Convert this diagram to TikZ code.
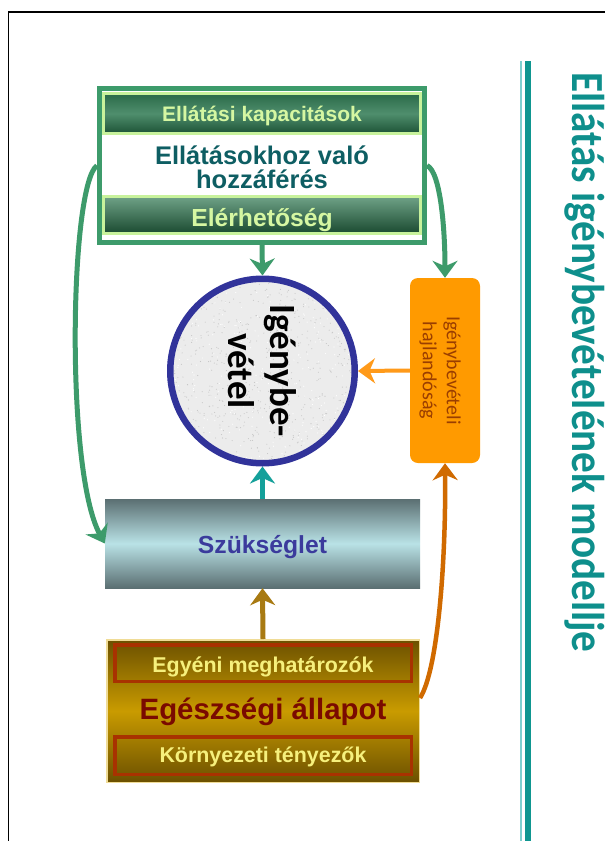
\documentclass[tikz,border=0pt]{standalone}
\usepackage{fontspec}
\setmainfont{Liberation Sans}
\newfontfamily\calfont{Carlito}
\newfontfamily\headfont[FakeStretch=0.895]{Carlito}
\usetikzlibrary{arrows.meta,calc}

\definecolor{frameGreen}{HTML}{3D9B6B}
\definecolor{barEdge}{HTML}{C8F29C}
\definecolor{barText}{HTML}{D6F7A2}
\definecolor{accText}{HTML}{0E5E63}
\definecolor{ringBlue}{HTML}{31339A}
\definecolor{propOrange}{HTML}{FF9A00}
\definecolor{propText}{HTML}{9A3E00}
\definecolor{needText}{HTML}{3B3B9C}
\definecolor{needDark}{HTML}{5B6F72}
\definecolor{needLight}{HTML}{B9E2E6}
\definecolor{goldDark}{HTML}{6B5000}
\definecolor{goldMid}{HTML}{C99B00}
\definecolor{goldEdge}{HTML}{F0DC96}
\definecolor{rust}{HTML}{A83200}
\definecolor{lemon}{HTML}{F6F07C}
\definecolor{healthText}{HTML}{7A0A00}
\definecolor{tealArrow}{HTML}{14A09A}
\definecolor{brownArrow}{HTML}{A87A12}
\definecolor{orangeArrow}{HTML}{FF9A1A}
\definecolor{burntArrow}{HTML}{D06A00}
\definecolor{titleTeal}{HTML}{0E8F8C}
\definecolor{ruleLight}{HTML}{7FCFCF}
\definecolor{ruleTeal}{HTML}{0F9690}
\definecolor{barTop}{HTML}{2A6A48}
\definecolor{barMid}{HTML}{4F8E6D}
\definecolor{barLow}{HTML}{1D5236}
\definecolor{barLight}{HTML}{6FA287}
\definecolor{barDeep}{HTML}{1A4A30}
\definecolor{stone}{HTML}{ECECEC}

\tikzset{
  greenbar/.style={draw=barEdge, line width=3pt, minimum width=317pt, inner sep=0pt},
  bartext/.style={anchor=base, text=barText, font=\bfseries\fontsize{21}{24}\selectfont},
  accline/.style={anchor=base, text=accText, font=\bfseries\fontsize{25.5}{28}\selectfont},
  goldframe/.style={draw=rust, line width=3.5pt, minimum width=296.5pt, inner sep=0pt},
  lemontext/.style={anchor=base, text=lemon, font=\bfseries\fontsize{21.4}{24}\selectfont},
  conn/.style={line width=5pt, -{Stealth[length=17pt,width=25pt,inset=5.5pt]}},
}

\begin{document}
\begin{tikzpicture}[x=1pt,y=-1pt]
\useasboundingbox (0,0) rectangle (605,841);
\fill[white] (0,0) rectangle (605,841);

% page frame and side rules
\draw[black, line width=1.5pt] (8.5,850) -- (8.5,12) -- (615,12);
\fill[ruleLight] (519.5,61) rectangle (521.5,850);
\fill[ruleTeal] (525,61) rectangle (531,850);

% title
\node[rotate=-90, anchor=base west, inner sep=0pt, text=titleTeal,
      font=\headfont\bfseries\fontsize{46}{50}\selectfont] (title) at (572,72)
      {Ellátás igénybevételének modellje};

% access block
\node[draw=frameGreen, line width=5pt, fill=white, minimum width=325pt,
      minimum height=154pt, inner sep=0pt] (access) at (262,165.5) {};
\node[greenbar, minimum height=40pt, top color=barTop, bottom color=barLow,
      middle color=barMid] (capbar) at (262,113.5) {};
\node[bartext] (captext) at (262,121.5) {Ellátási kapacitások};
\node[accline] (acc1) at (262,164.5) {Ellátásokhoz való};
\node[accline] (acc2) at (262,188) {hozzáférés};
\node[greenbar, minimum height=37pt, top color=barLight, bottom color=barDeep]
      (reachbar) at (262,215) {};
\node[bartext, font=\bfseries\fontsize{24.7}{28}\selectfont] (reachtext) at (262,226.5) {Elérhetőség};

% utilisation circle with stone texture
\coordinate (usec) at (262.5,371);
\fill[stone] (usec) circle (92.25pt);
\begin{scope}
  \clip (usec) circle (92pt);
  \pgfmathsetseed{11}
  \foreach \k in {1,...,650}{
    \fill[gray!45] ($(usec)+({rand*92},{rand*92})$) circle (0.55pt);
  }
  \foreach \k in {1,...,300}{
    \fill[white] ($(usec)+({rand*92},{rand*92})$) circle (0.6pt);
  }
\end{scope}
\node[circle, draw=ringBlue, line width=6.5pt, minimum size=184.5pt, inner sep=0pt]
      (use) at (usec) {};
\node[rotate=-90, align=center, font=\calfont\bfseries\fontsize{37}{42}\selectfont]
      (uselabel) at (use.center) {Igénybe-\\vétel};

% propensity box
\node[rounded corners=8pt, fill=propOrange, minimum width=70pt, minimum height=185pt,
      inner sep=0pt] (prop) at (445,370.5) {};
\node[rotate=-90, align=center, text=propText, font=\calfont\fontsize{20}{24}\selectfont]
      (proplabel) at (440,370.5) {Igénybevételi\\hajlandóság};

% need box
\node[minimum width=315pt, minimum height=89pt, inner sep=0pt, top color=needDark,
      bottom color=needDark, middle color=needLight] (need) at (262.5,543.5) {};
\node[anchor=base, text=needText, font=\bfseries\fontsize{24.7}{28}\selectfont]
      (needtext) at (262.5,553) {Szükséglet};

% health block
\node[draw=goldEdge, line width=1.5pt, minimum width=312.5pt, minimum height=142.5pt,
      inner sep=0pt, top color=goldDark, bottom color=goldDark, middle color=goldMid]
      (health) at (263,711) {};
\node[goldframe, minimum height=36.5pt] (indiv) at (263,663) {};
\node[goldframe, minimum height=37.5pt] (envir) at (263,755.5) {};
\node[lemontext] (indivtext) at (263,672.7) {Egyéni meghatározók};
\node[anchor=base, text=healthText, font=\bfseries\fontsize{29.4}{32}\selectfont]
      (healthtext) at (263,719.3) {Egészségi állapot};
\node[lemontext] (envirtext) at (263,762.7) {Környezeti tényezők};

% connectors
\draw[conn, frameGreen] (access.south) -- (use.north);
\draw[conn, frameGreen] (access.west) .. controls (70,185) and (65,470) .. (need.west);
\draw[conn, frameGreen] (access.east) .. controls (441,172) and (445,232) .. (prop.north);
\draw[conn, tealArrow] (need.north) -- (use.south);
\draw[conn, brownArrow] (health.north) -- (need.south);
\draw[conn, orangeArrow, line width=4pt] (prop.west) -- (use.east);
\draw[conn, burntArrow, line width=4.5pt] ([yshift=13pt]health.east)
      .. controls (438,670) and (446,560) .. (prop.south);
\end{tikzpicture}
\end{document}
